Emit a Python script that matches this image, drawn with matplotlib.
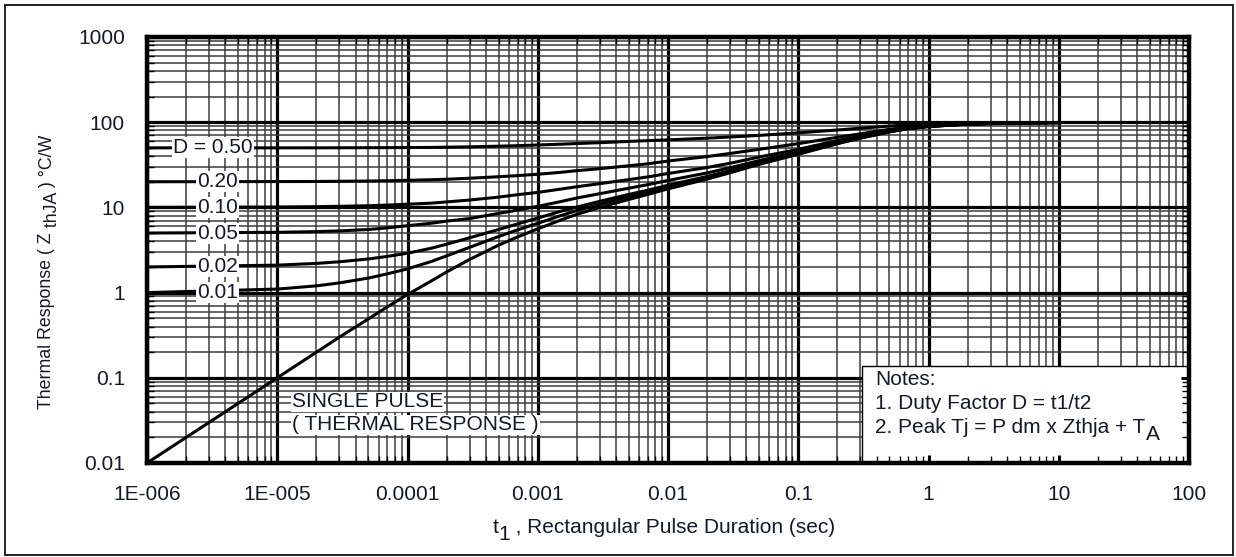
import matplotlib
matplotlib.use('Agg')
import matplotlib.pyplot as plt
from matplotlib.patches import Rectangle
from matplotlib.ticker import FixedLocator, FixedFormatter, LogLocator, NullFormatter

plt.rcParams['font.family'] = ['Liberation Sans', 'DejaVu Sans']
TXT = '#151826'
FS = 15
FS_Y = 12.8

# ── data (pulse duration t1 in s, Zth in °C/W) ────────────────────────────────
t1 = [1e-6, 1e-5, 2e-5, 3e-5, 5e-5, 7e-5, 1e-4, 1.5e-4, 2e-4, 3e-4, 5e-4, 7e-4, 1e-3,
      1.5e-3, 2e-3, 3e-3, 5e-3, 7e-3, 1e-2, 2e-2, 3e-2, 5e-2, 0.1,
      0.2, 0.3, 0.5, 0.7, 1, 2, 5, 10]

z_d050 = [50, 50, 50.05, 50.1, 50.2, 50.3, 50.4, 50.6, 50.9, 51.4, 52.3, 53, 54,
          55.2, 56.2, 57.5, 59.5, 60.8, 62, 65, 67, 70, 75,
          81, 85, 90, 93, 95, 97.5, 98.5, 99]
z_d020 = [20, 20.1, 20.15, 20.25, 20.4, 20.55, 20.8, 21.1, 21.4, 22.0, 22.9, 23.6, 24.5,
          25.8, 27, 28.5, 30.8, 32.5, 35, 39.5, 43, 48, 56,
          66.5, 73, 82.5, 87.5, 91.5, 96, 98.5, 99]
z_d010 = [10, 10.1, 10.2, 10.3, 10.45, 10.65, 10.9, 11.2, 11.6, 12.2, 13.2, 14.1, 15.0,
          16.4, 17.5, 19.0, 21.2, 22.8, 25, 29.4, 33, 39, 48,
          61, 69, 79.5, 85.5, 90, 95.5, 98.2, 99]
z_d005 = [5.0, 5.1, 5.2, 5.3, 5.5, 5.75, 6.1, 6.5, 6.9, 7.4, 8.5, 9.3, 10.3,
          11.7, 12.9, 14.5, 16.8, 18.5, 20.7, 25.4, 29.2, 35.4, 45,
          58.2, 66.8, 78.2, 84.8, 89.5, 95.3, 98.1, 99]
z_d002 = [2.0, 2.1, 2.2, 2.3, 2.48, 2.66, 2.9, 3.3, 3.7, 4.4, 5.5, 6.4, 7.5,
          9.0, 10.1, 11.8, 14.2, 15.9, 18.2, 23.1, 27, 33.4, 43.2,
          56.9, 65.7, 77.5, 84.4, 89.2, 95.1, 98, 99]
z_d001 = [1.0, 1.1, 1.2, 1.3, 1.48, 1.66, 1.9, 2.3, 2.7, 3.4, 4.55, 5.45, 6.5,
          8.0, 9.2, 10.9, 13.3, 15.1, 17.3, 22.3, 26.2, 32.7, 42.6,
          56.5, 65.4, 77.2, 84.2, 89.1, 95, 98, 99]
z_single = [0.01, 0.1, 0.2, 0.3, 0.49, 0.68, 0.95, 1.35, 1.75, 2.45, 3.6, 4.5, 5.6,
            7.1, 8.3, 10.0, 12.4, 14.2, 16.5, 21.5, 25.5, 32, 42,
            56, 65, 77, 84, 89, 95, 98, 99]

curves = [z_d050, z_d020, z_d010, z_d005, z_d002, z_d001, z_single]

duty_labels = ['D = 0.50', '0.20', '0.10', '0.05', '0.02', '0.01']
duty_label_t = [3.2e-6, 3.5e-6, 3.5e-6, 3.5e-6, 3.5e-6, 3.5e-6]
duty_label_z = [50, 20, 10, 5, 2, 1]

x_ticks = [1e-6, 1e-5, 1e-4, 1e-3, 1e-2, 1e-1, 1, 10, 100]
x_tick_labels = ['1E-006', '1E-005', '0.0001', '0.001', '0.01', '0.1', '1', '10', '100']
y_ticks = [0.01, 0.1, 1, 10, 100, 1000]
y_tick_labels = ['0.01', '0.1', '1', '10', '100', '1000']

notes = ['Notes:', '1. Duty Factor D = t1/t2', '2. Peak Tj = P dm x Zthja + T']


def sub(prev, s, dx, dy, **kw):
    # next text piece glued to the end of the previous one, shifted for subscripts
    return ax.annotate(s, xy=kw.pop('xy', (1, 0)), xycoords=prev,
                       xytext=(dx, dy), textcoords='offset points',
                       fontsize=kw.pop('fontsize', FS), color=TXT,
                       annotation_clip=False, **kw)


# ── figure ────────────────────────────────────────────────────────────────────
fig = plt.figure(figsize=(12.36, 5.57), dpi=100)
rect = [147 / 1236, 94 / 557, 1042 / 1236, 426 / 557]
ax = fig.add_axes(rect)
ax.set_xscale('log')
ax.set_yscale('log')
ax.set_xlim(1e-6, 100)
ax.set_ylim(0.01, 1000)
ax.set_axisbelow(True)

ax.xaxis.set_major_locator(FixedLocator(x_ticks))
ax.xaxis.set_major_formatter(FixedFormatter(x_tick_labels))
ax.yaxis.set_major_locator(FixedLocator(y_ticks))
ax.yaxis.set_major_formatter(FixedFormatter(y_tick_labels))
for a in (ax.xaxis, ax.yaxis):
    a.set_minor_locator(LogLocator(base=10, subs=range(2, 10), numticks=20))
    a.set_minor_formatter(NullFormatter())

ax.grid(which='major', color='black', lw=2.3)
ax.grid(which='minor', color='#3c3c3c', lw=1.1)
ax.tick_params(which='both', length=0, labelsize=FS, labelcolor=TXT)
ax.tick_params(axis='x', pad=16)
ax.tick_params(axis='y', pad=16)
for sp in ax.spines.values():
    sp.set_visible(False)

# notes box hides the grid in the lower right corner
ax.add_patch(Rectangle((0.686, 0.0), 0.314, 0.227, transform=ax.transAxes,
                       facecolor='white', edgecolor='black', lw=1.0, zorder=1))

for z in curves:
    ax.plot(t1, z, color='black', lw=2.2, zorder=3, solid_capstyle='butt')

for lbl, tx, zy in zip(duty_labels, duty_label_t, duty_label_z):
    ax.text(tx, zy, lbl, ha='center', va='center', fontsize=FS, color=TXT, zorder=4,
            bbox=dict(facecolor='white', edgecolor='none', pad=0.8))

ax.text(1.3e-5, 0.052, 'SINGLE PULSE', ha='left', va='center', fontsize=FS,
        color=TXT, zorder=4, bbox=dict(facecolor='white', edgecolor='none', pad=0.6))
ax.text(1.3e-5, 0.028, '( THERMAL RESPONSE )', ha='left', va='center', fontsize=FS,
        color=TXT, zorder=4, bbox=dict(facecolor='white', edgecolor='none', pad=0.6))

note_txt = []
for i, line in enumerate(notes):
    note_txt.append(ax.text(0.699, 0.196 - i * 0.056, line, transform=ax.transAxes,
                            ha='left', va='center', fontsize=FS, color=TXT, zorder=4))
sub(note_txt[-1], 'A', 0, -5, ha='left', va='bottom', zorder=4)

# x label: t with a full size, lowered "1"
xl = fig.text(493 / 1236, 24 / 557, 't', fontsize=FS, color=TXT, ha='left', va='baseline')
xl1 = sub(xl, '1', 0, -5, ha='left', va='bottom')
sub(xl1, ' , Rectangular Pulse Duration (sec)', 0, 5, ha='left', va='bottom')

# y label: rotated, "thJA" shifted down the line like a subscript
yl = fig.text(47 / 1236, 148 / 557, 'Thermal Response ( Z', fontsize=FS_Y, color=TXT,
              rotation=90, ha='center', va='bottom')
yl1 = sub(yl, ' thJA', 4, 0, xy=(0.5, 1), fontsize=FS_Y, rotation=90,
          ha='center', va='bottom')
sub(yl1, ' ) °C/W', -4, 0, xy=(0.5, 1), fontsize=FS_Y, rotation=90,
    ha='center', va='bottom')

# overlay axes: frame and inward ticks on top of the notes box
axt = fig.add_axes(rect, sharex=ax, sharey=ax)
axt.patch.set_visible(False)
axt.grid(False)
axt.tick_params(which='both', direction='in', top=True, right=True,
                labelbottom=False, labelleft=False, color='black')
axt.tick_params(which='major', length=6, width=2.2)
axt.tick_params(which='minor', length=5, width=1.0)
for sp in axt.spines.values():
    sp.set_linewidth(3.2)

# thin frame round the whole picture
fig.patches.append(Rectangle((5 / 1236, 2 / 557), 1228 / 1236, 550 / 557,
                             transform=fig.transFigure, fill=False,
                             edgecolor='#222222', lw=1.4))

fig.savefig('out.png', dpi=100)
